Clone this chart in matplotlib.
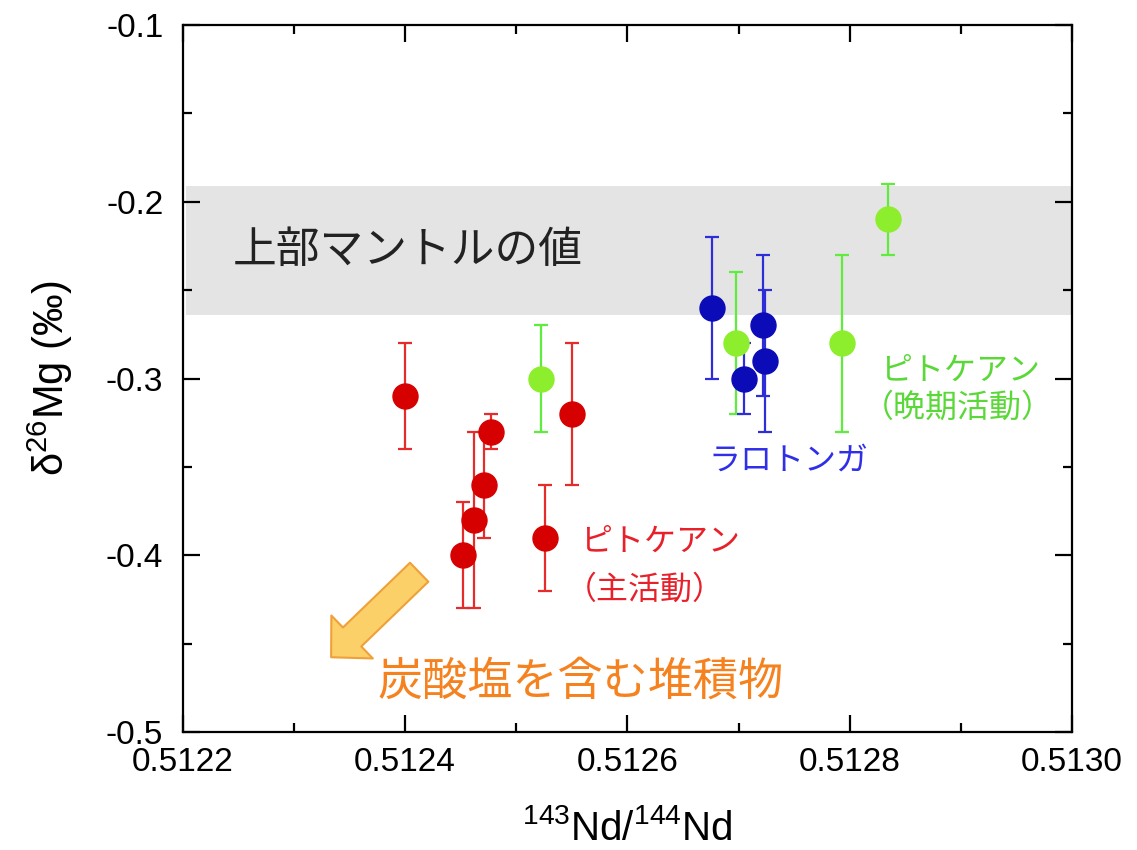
import matplotlib
matplotlib.use("Agg")
import matplotlib.pyplot as plt
from matplotlib.ticker import MultipleLocator, FormatStrFormatter

plt.rcParams['font.family'] = ['Liberation Sans', 'Noto Sans CJK JP', 'DejaVu Sans']
plt.rcParams['mathtext.fontset'] = 'custom'
plt.rcParams['mathtext.rm'] = 'Liberation Sans'
plt.rcParams['mathtext.it'] = 'Liberation Sans:italic'

JP = ['Noto Sans CJK JP', 'DejaVu Sans']

# Pitcairn, main activity (red)
red_nd = [0.51240, 0.512477, 0.512471, 0.512462, 0.512452, 0.51255, 0.512526]
red_mg = [-0.31, -0.33, -0.36, -0.38, -0.40, -0.32, -0.39]
red_err = [0.03, 0.01, 0.03, 0.05, 0.03, 0.04, 0.03]

# Pitcairn, late activity (green)
green_nd = [0.512522, 0.512698, 0.512793, 0.512834]
green_mg = [-0.30, -0.28, -0.28, -0.21]
green_err = [0.03, 0.04, 0.05, 0.02]

# Rarotonga (blue)
blue_nd = [0.512676, 0.512705, 0.512722, 0.512724]
blue_mg = [-0.26, -0.30, -0.27, -0.29]
blue_err = [0.04, 0.02, 0.04, 0.04]

# upper mantle range
mantle_low, mantle_high = -0.264, -0.191

fig = plt.figure(figsize=(11.37, 8.5), dpi=100)
ax = fig.add_axes([0.1607, 0.1388, 0.7822, 0.8318])

ax.axhspan(mantle_low, mantle_high, xmin=0.004, xmax=1.0, color='#e4e4e4', lw=0, zorder=0)

style = dict(fmt='o', markersize=18, elinewidth=1.6, capsize=5, capthick=1.6, zorder=3)
ax.errorbar(red_nd, red_mg, yerr=red_err, color='#d60000', ecolor='#e52b2b', **style)
ax.errorbar(green_nd, green_mg, yerr=green_err, color='#8cee2c', ecolor='#5fec3c', **style)
ax.errorbar(blue_nd, blue_mg, yerr=blue_err, color='#0b0bb8', ecolor='#2e2ed8', **style)

ax.set_xlim(0.5122, 0.5130)
ax.set_ylim(-0.5, -0.1)
ax.xaxis.set_major_locator(MultipleLocator(0.0002))
ax.xaxis.set_minor_locator(MultipleLocator(0.0001))
ax.yaxis.set_major_locator(MultipleLocator(0.1))
ax.yaxis.set_minor_locator(MultipleLocator(0.05))
ax.xaxis.set_major_formatter(FormatStrFormatter('%.4f'))
ax.yaxis.set_major_formatter(FormatStrFormatter('%.1f'))

for s in ax.spines.values():
    s.set_linewidth(1.6)
ax.tick_params(which='both', direction='in', top=True, right=True, width=1.6, labelsize=24)
ax.tick_params(which='major', length=12)
ax.tick_params(which='minor', length=6.5)
ax.tick_params(axis='y', pad=14)
ax.tick_params(axis='x', pad=11)

ax.set_xlabel('$^{143}$Nd/$^{144}$Nd', fontsize=29, labelpad=22)
ax.set_ylabel('δ$^{26}$Mg (‰)', fontsize=30, labelpad=22)

ax.text(0.5122453, -0.2273, '上部マントルの値', family=JP, fontsize=31.5,
        color='#222222', ha='left', va='center')
ax.text(0.5126728, -0.3465, 'ラロトンガ', family=JP, fontsize=23,
        color='#2f2fe8', ha='left', va='center')
ax.text(0.5125576, -0.3925, 'ピトケアン', family=JP, fontsize=23,
        color='#e8202a', ha='left', va='center')
ax.text(0.5125439, -0.4195, '（主活動）', family=JP, fontsize=23,
        color='#e8202a', ha='left', va='center')
ax.text(0.5128276, -0.2958, 'ピトケアン', family=JP, fontsize=23,
        color='#5ad838', ha='left', va='center')
ax.text(0.5128111, -0.3165, '（晩期活動）', family=JP, fontsize=23,
        color='#5ad838', ha='left', va='center')
ax.text(0.5123749, -0.4715, '炭酸塩を含む堆積物', family=JP, fontsize=32.5,
        color='#f5821f', ha='left', va='center')

ax.annotate('', xy=(0.5123335, -0.4577), xytext=(0.5124127, -0.4096),
            arrowprops=dict(arrowstyle='simple,head_length=1.05,head_width=2.15,tail_width=0.95',
                            mutation_scale=20, fc='#fcd068', ec='#f0a038', lw=1.5,
                            shrinkA=0, shrinkB=0), zorder=2)

fig.savefig('out.png', dpi=100)
